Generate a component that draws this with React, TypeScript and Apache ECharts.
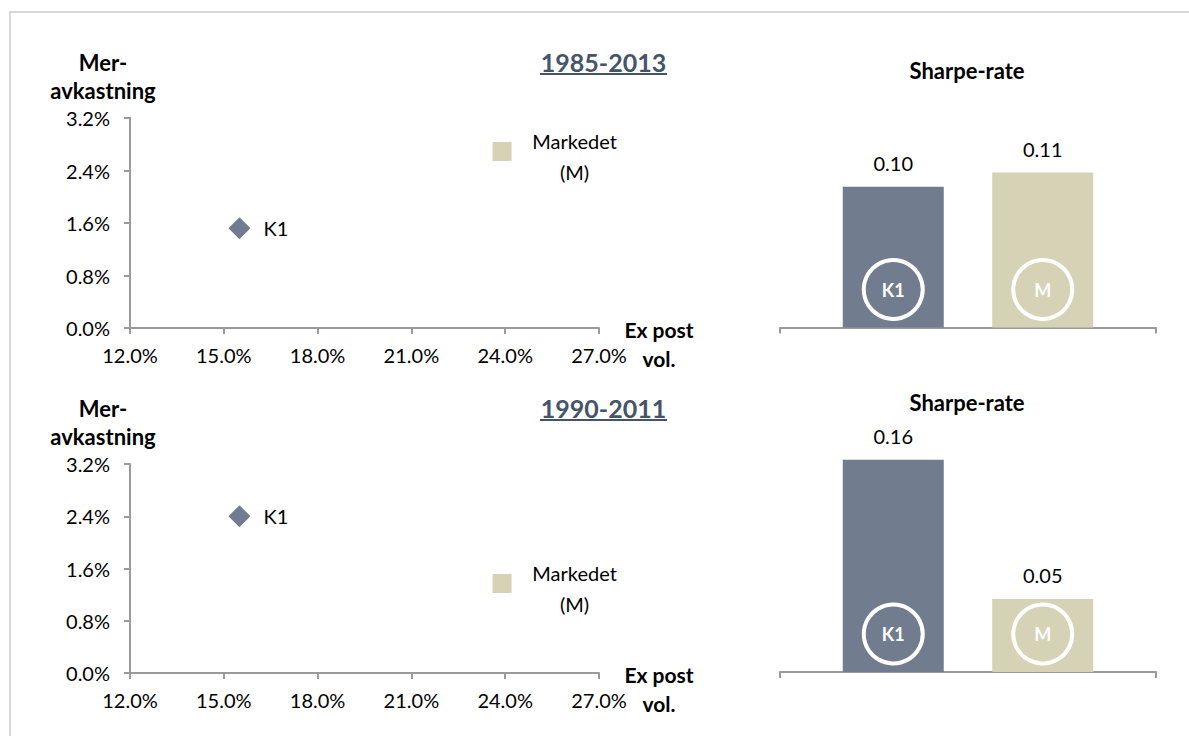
import React, { useEffect, useRef } from "react";
import * as echarts from "echarts";

// ---------- data ----------
const periods = ["1985-2013", "1990-2011"];
const xTicks = { min: 12, max: 27, interval: 3 }; // Ex post vol. (%)
const yTicks = { min: 0, max: 3.2, interval: 0.8 }; // Meravkastning (%)
// [ex post vol %, meravkastning %]
const k1Top = [15.5, 1.52];
const mTop = [23.9, 2.69];
const k1Bottom = [15.5, 2.4];
const mBottom = [23.9, 1.37];
const barCategory = ["Sharpe-rate"];
const sharpeTop = [0.1, 0.11];
const sharpeBottom = [0.157, 0.054];
const pointLabels = ["K1", "Markedet\n(M)"];
const ringLabels = ["K1", "M"];
const yAxisName = "Mer-\navkastning";
const xAxisName = "Ex post\nvol.";
const barTitle = "Sharpe-rate";

// ---------- style ----------
const FONT = "Lato";
const AX = "#9a9a9a";
const C_K1 = "#717d8f";
const C_M = "#d5d2b5";
const TITLE_C = "#44546a";

export default function App() {
  const ref = useRef<HTMLDivElement>(null);
  useEffect(() => {
    if (!ref.current) return;
    const chart = echarts.init(ref.current, null, { renderer: "svg" });

    const grids = [
      { left: 130, top: 118, width: 469, height: 210 },
      { left: 130, top: 464, width: 469, height: 209 },
      { left: 780, top: 127.5, width: 376, height: 200 },
      { left: 780, top: 422, width: 376, height: 250 },
    ];
    const barMax = [0.142, 0.185];

    const axisLine = { show: true, onZero: false, lineStyle: { color: AX, width: 2 } };
    const axisTick = { show: true, length: 6, lineStyle: { color: AX, width: 2 } };
    const lab = { fontFamily: FONT, fontSize: 20, color: "#000" };

    const xAxis: any[] = [0, 1].map((i) => ({
      type: "value",
      gridIndex: i,
      min: xTicks.min,
      max: xTicks.max,
      interval: xTicks.interval,
      axisLine,
      axisTick,
      splitLine: { show: false },
      axisLabel: { ...lab, margin: 17, formatter: (v: number) => v.toFixed(1) + "%" },
    }));
    [2, 3].forEach((i) =>
      xAxis.push({
        type: "category",
        gridIndex: i,
        data: barCategory,
        axisLine,
        axisTick,
        axisLabel: { show: false },
      })
    );
    const yAxis: any[] = [0, 1].map((i) => ({
      type: "value",
      gridIndex: i,
      min: yTicks.min,
      max: yTicks.max,
      interval: yTicks.interval,
      axisLine,
      axisTick,
      splitLine: { show: false },
      axisLabel: { ...lab, margin: 20, formatter: (v: number) => v.toFixed(1) + "%" },
    }));
    [0, 1].forEach((k) =>
      yAxis.push({
        type: "value",
        gridIndex: 2 + k,
        min: 0,
        max: barMax[k],
        show: false,
        splitLine: { show: false },
      })
    );

    const scatterPairs = [
      [k1Top, mTop],
      [k1Bottom, mBottom],
    ];
    const series: any[] = [];
    scatterPairs.forEach(([k1, m], i) => {
      series.push({
        type: "scatter",
        name: "K1",
        xAxisIndex: i,
        yAxisIndex: i,
        symbol: "diamond",
        symbolSize: 22,
        data: [k1],
        itemStyle: { color: C_K1, opacity: 1 },
        label: {
          show: true,
          position: "right",
          distance: 13,
          formatter: pointLabels[0],
          ...lab,
        },
      });
      series.push({
        type: "scatter",
        name: "M",
        xAxisIndex: i,
        yAxisIndex: i,
        symbol: "rect",
        symbolSize: 19,
        data: [m],
        itemStyle: { color: C_M, opacity: 1 },
        label: {
          show: true,
          position: "right",
          distance: 5,
          align: "center",
          verticalAlign: "middle",
          offset: [58, 5],
          lineHeight: 31,
          formatter: pointLabels[1],
          ...lab,
        },
      });
    });

    const sharpeSets = [sharpeTop, sharpeBottom];
    sharpeSets.forEach((vals, k) => {
      [C_K1, C_M].forEach((col, j) => {
        series.push({
          type: "bar",
          name: ringLabels[j],
          xAxisIndex: 2 + k,
          yAxisIndex: 2 + k,
          data: [vals[j]],
          barWidth: 101,
          barGap: "48%",
          itemStyle: { color: col },
          label: {
            show: true,
            position: "top",
            distance: 14,
            formatter: (p: any) => p.value.toFixed(2),
            ...lab,
          },
          markPoint: {
            symbol: "circle",
            symbolSize: 59,
            symbolOffset: [0, -38],
            itemStyle: { color: "rgba(0,0,0,0)", borderColor: "#fff", borderWidth: 4 },
            label: {
              show: true,
              position: "inside",
              formatter: ringLabels[j],
              color: "#fff",
              fontFamily: FONT,
              fontWeight: "bold",
              fontSize: 18,
            },
            data: [{ coord: [barCategory[0], 0] }],
          },
        });
      });
    });

    const bold = (text: string, x: number, y: number, size: number, lh?: number, fill = "#000") => ({
      type: "text",
      x,
      y,
      silent: true,
      style: {
        text,
        fill,
        fontFamily: FONT,
        fontWeight: "bold",
        fontSize: size,
        lineHeight: lh,
        align: "center",
        verticalAlign: "middle",
      },
    });

    const graphic: any[] = [
      {
        type: "rect",
        shape: { x: 10, y: 12, width: 1250, height: 800 },
        style: { fill: "none", stroke: "#d9d9d9", lineWidth: 2 },
        silent: true,
      },
    ];
    const dy = [0, 346];
    periods.forEach((p, i) => {
      const o = dy[i];
      graphic.push(bold(yAxisName, 103, 76 + o, 22, 28));
      graphic.push(bold(xAxisName, 659, 344 + o - (i ? 1 : 0), 21, 29));
      graphic.push(bold(p, 603.5, 62 + o, 25, undefined, TITLE_C));
      graphic.push({
        type: "line",
        shape: { x1: 540, y1: 74 + o, x2: 667, y2: 74 + o },
        style: { stroke: TITLE_C, lineWidth: 2 },
        silent: true,
      });
    });
    graphic.push(bold(barTitle, 967, 70, 22));
    graphic.push(bold(barTitle, 967, 402, 22));

    chart.setOption({
      animation: false,
      backgroundColor: "#fff",
      textStyle: { fontFamily: FONT },
      grid: grids,
      xAxis,
      yAxis,
      series,
      graphic,
    });
    return () => chart.dispose();
  }, []);
  return (
    <div
      ref={ref}
      style={{ position: "fixed", left: 0, top: 0, width: 1189, height: 736 }}
    />
  );
}
